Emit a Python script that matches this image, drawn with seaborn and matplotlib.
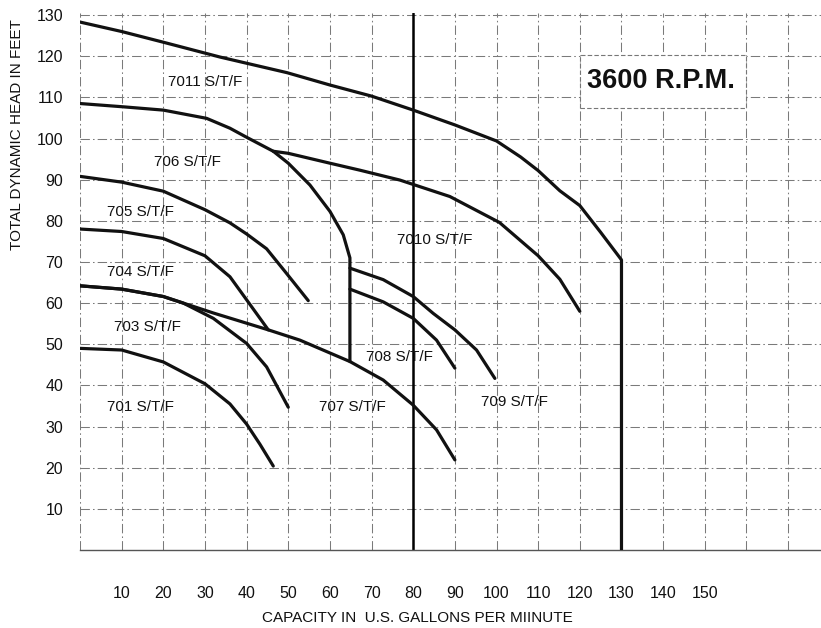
import pandas as pd
import seaborn as sns
import matplotlib.pyplot as plt
from matplotlib.patches import Rectangle

# Pump curves (capacity in GPM, head in feet)
q_701 = [0, 10, 20, 30, 36, 40, 43.2, 46.4]
h_701 = [49.0, 48.6, 45.7, 40.4, 35.5, 30.6, 25.7, 20.4]

q_703 = [0, 10, 20, 24.8, 32, 40, 44.8, 50]
h_703 = [64.2, 63.4, 61.6, 60.0, 56.3, 50.2, 44.5, 34.7]

q_704 = [0, 10, 20, 30, 36, 40, 45.2]
h_704 = [78.0, 77.4, 75.7, 71.5, 66.4, 60.8, 53.5]

q_705 = [0, 10, 20, 30, 36, 40, 44.8, 49.2, 54.8]
h_705 = [90.8, 89.4, 87.2, 82.7, 79.5, 76.8, 73.2, 67.7, 60.6]

q_706 = [0, 10.4, 20, 30.4, 36, 40, 46.4, 50, 55.2, 60, 63.2, 64.8, 64.8]
h_706 = [108.5, 107.7, 106.9, 104.9, 102.5, 100.3, 96.9, 94.0, 88.7, 82.3, 76.6, 71.0, 45.8]

q_707 = [0, 10, 20, 24.8, 32, 45.2, 52.8, 64.8, 72.8, 80, 85.6, 90]
h_707 = [64.2, 63.4, 61.6, 60.0, 57.6, 53.5, 51.0, 45.8, 41.3, 35.2, 29.2, 21.9]

q_708 = [64.8, 72.8, 80, 85.6, 90]
h_708 = [63.4, 60.3, 56.3, 51.0, 44.2]

q_709 = [64.8, 72.8, 80, 84.8, 90, 95.2, 99.6]
h_709 = [68.5, 65.7, 61.6, 57.5, 53.5, 48.6, 41.7]

q_7010 = [46.4, 50, 60, 67.2, 76.8, 88.8, 100.7, 110, 115.2, 120]
h_7010 = [96.9, 96.4, 94.0, 92.3, 89.9, 85.9, 79.6, 71.5, 65.8, 58.0]

q_7011 = [0, 10, 20, 33.6, 49.7, 60, 70, 80, 90, 100, 105.8, 110, 115.2, 120, 125, 130, 130]
h_7011 = [128.3, 126.0, 123.4, 119.8, 116.0, 113.0, 110.3, 106.9, 103.3, 99.4, 95.5, 92.2, 87.3, 83.7, 77.2, 70.5, 0]

curve_names = ["701", "703", "704", "705", "706", "707", "708", "709", "7010", "7011"]
curve_q = [q_701, q_703, q_704, q_705, q_706, q_707, q_708, q_709, q_7010, q_7011]
curve_h = [h_701, h_703, h_704, h_705, h_706, h_707, h_708, h_709, h_7010, h_7011]

# label positions (data coords)
label_x = [14.4, 16.3, 14.4, 14.4, 25.7, 65.5, 76.8, 104.4, 85.2, 30.0]
label_y = [34.8, 54.2, 67.6, 82.1, 94.3, 34.8, 47.0, 36.0, 75.3, 113.7]

x_ticks = list(range(0, 180, 10))
x_ticklabels = ["" if (t == 0 or t > 150) else str(t) for t in x_ticks]
y_ticks = list(range(0, 140, 10))
y_ticklabels = ["" if t == 0 else str(t) for t in y_ticks]

sns.set_style("white")
plt.rcParams['font.family'] = ['Liberation Sans', 'DejaVu Sans']

fig = plt.figure(figsize=(8.21, 6.28), dpi=100)
ax = fig.add_axes([80 / 821, 78 / 628, 741 / 821, 537 / 628])

# grid
grid_color = "#7a7a7a"
for t in x_ticks:
    ax.axvline(t, color=grid_color, lw=0.75, ls=(0, (9, 3, 1.5, 3)), zorder=1)
for t in y_ticks[1:]:
    ax.axhline(t, color=grid_color, lw=0.75, ls=(0, (9, 3, 1.5, 3)), zorder=1)
# heavy rule at 80 GPM
ax.axvline(80, color="black", lw=1.8, zorder=2)

for name, q, h in zip(curve_names, curve_q, curve_h):
    df = pd.DataFrame({"q": q, "h": h})
    sns.lineplot(data=df, x="q", y="h", sort=False, estimator=None,
                 color="#111111", lw=2.3, ax=ax, zorder=3)

for name, lx, ly in zip(curve_names, label_x, label_y):
    ax.text(lx, ly, f"{name} S/T/F", fontsize=11, ha="center", va="center",
            color="#111111", zorder=4)

# speed box
box = Rectangle((120, 107.5), 40, 12.8, facecolor="white",
                edgecolor="#777777", lw=0.8, ls=(0, (4, 2)), zorder=2.5)
ax.add_patch(box)
ax.text(139.5, 114.0, "3600 R.P.M.", fontsize=19.5, fontweight="bold",
        ha="center", va="center", color="#111111", zorder=4)

ax.set_xlim(0, 177.9)
ax.set_ylim(0, 130.5)
ax.set_xticks(x_ticks)
ax.set_xticklabels(x_ticklabels)
ax.set_yticks(y_ticks)
ax.set_yticklabels(y_ticklabels)
ax.tick_params(axis="x", length=0, pad=26, labelsize=11.5, colors="#111111")
ax.tick_params(axis="y", length=0, pad=12, labelsize=11.5, colors="#111111")
ax.set_xlabel("")
ax.set_ylabel("")

for side in ["top", "right", "left"]:
    ax.spines[side].set_visible(False)
ax.spines["bottom"].set_color("#555555")
ax.spines["bottom"].set_linewidth(1.0)

fig.text(417 / 821, 1 - 618 / 628, "CAPACITY IN  U.S. GALLONS PER MIINUTE",
         fontsize=11, ha="center", va="center", color="#111111")
fig.text(17.5 / 821, 1 - 135 / 628, "TOTAL DYNAMIC HEAD IN FEET",
         fontsize=11, ha="center", va="center", rotation=90, color="#111111")

fig.savefig("out.png", dpi=100)
